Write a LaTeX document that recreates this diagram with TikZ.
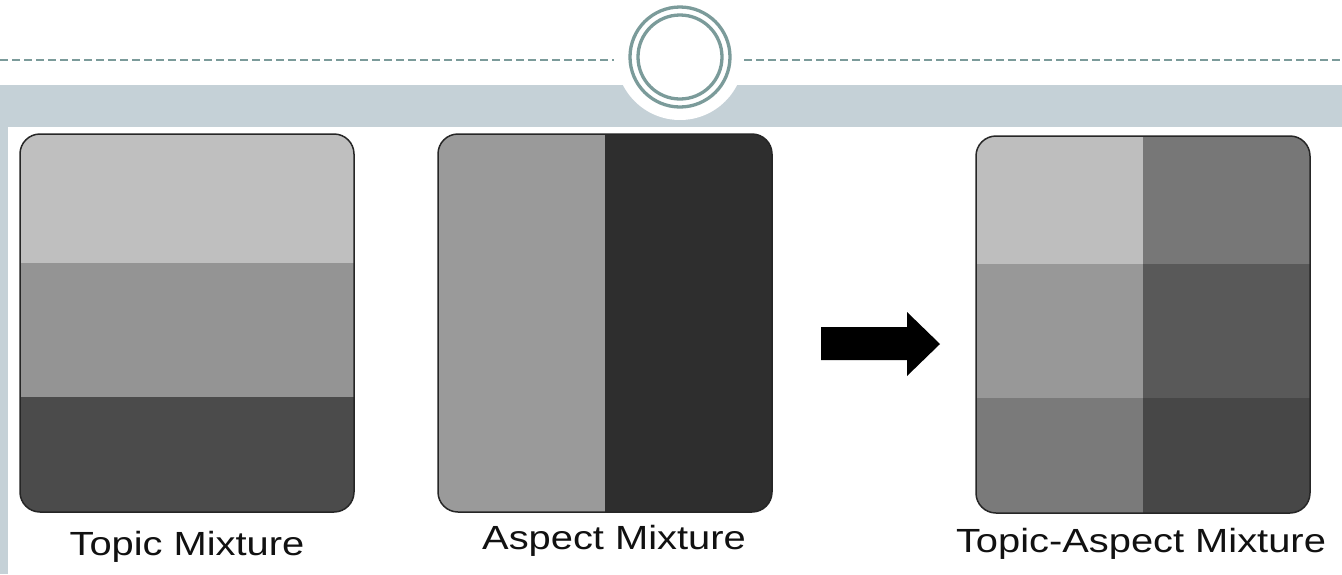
\documentclass[tikz,border=0pt]{standalone}
\usepackage{fontspec}
\setmainfont{Liberation Sans}
\definecolor{band}{HTML}{C5D1D7}
\definecolor{ring}{HTML}{7B9B9A}
\definecolor{tA}{HTML}{BFBFBF}
\definecolor{tB}{HTML}{949494}
\definecolor{tC}{HTML}{4B4B4B}
\definecolor{aA}{HTML}{9A9A9A}
\definecolor{aB}{HTML}{2E2E2E}
\definecolor{mTL}{HTML}{BEBEBE}
\definecolor{mTR}{HTML}{777777}
\definecolor{mML}{HTML}{989898}
\definecolor{mMR}{HTML}{595959}
\definecolor{mBL}{HTML}{7A7A7A}
\definecolor{mBR}{HTML}{474747}
\definecolor{txt}{HTML}{111111}
\tikzset{
  boxframe/.style={draw=black!85, line width=1.5pt, rounded corners=20pt},
  dashline/.style={draw=ring, line width=2pt, dash pattern=on 8pt off 4pt},
  lbl/.style={anchor=base, text=txt, inner sep=0pt, font=\fontsize{33.5}{40}\selectfont},
}
\newcommand{\wlbl}[1]{\scalebox{1.19}[1]{#1}}
\begin{document}
\begin{tikzpicture}[x=1pt,y=-1pt]
\useasboundingbox (0,0) rectangle (1342,574);
\fill[white] (0,0) rectangle (1342,574);
% header band and left strip
\fill[band] (0,85) rectangle (1342,127);
\fill[band] (0,127) rectangle (8,574);
% dashed lines
\coordinate (dl0) at (0,60);
\coordinate (dl1) at (614,60);
\coordinate (dr0) at (744,60);
\coordinate (dr1) at (1342,60);
\draw[dashline] (dl0) -- (dl1);
\draw[dashline] (dr0) -- (dr1);
% halo and rings
\node[circle, fill=white, minimum size=128pt, inner sep=0pt] (halo) at (680,56) {};
\node[circle, draw=ring, line width=3.3pt, minimum size=100pt, inner sep=0pt] (outer) at (680,57) {};
\node[circle, draw=ring, line width=3.3pt, minimum size=84pt, inner sep=0pt] (inner) at (680,57) {};

% Box 1: Topic Mixture
\begin{scope}
\clip[rounded corners=20pt] (20,134) rectangle (354,512);
\fill[tA] (20,134) rectangle (354,263);
\fill[tB] (20,263) rectangle (354,397);
\fill[tC] (20,397) rectangle (354,512);
\end{scope}
\node[boxframe, minimum width=334pt, minimum height=378pt, inner sep=0pt] (topic) at (187,323) {};

% Box 2: Aspect Mixture
\begin{scope}
\clip[rounded corners=20pt] (438,134) rectangle (772,512);
\fill[aA] (438,134) rectangle (605,512);
\fill[aB] (605,134) rectangle (772,512);
\end{scope}
\node[boxframe, minimum width=334pt, minimum height=378pt, inner sep=0pt] (aspect) at (605,323) {};

% Box 3: Topic-Aspect Mixture
\begin{scope}
\clip[rounded corners=20pt] (976,136) rectangle (1310,513);
\fill[mTL] (976,136) rectangle (1143,264);
\fill[mTR] (1143,136) rectangle (1310,264);
\fill[mML] (976,264) rectangle (1143,398);
\fill[mMR] (1143,264) rectangle (1310,398);
\fill[mBL] (976,398) rectangle (1143,513);
\fill[mBR] (1143,398) rectangle (1310,513);
\end{scope}
\node[boxframe, minimum width=334pt, minimum height=377pt, inner sep=0pt] (mix) at (1143,324.5) {};

% Arrow
\fill[black] (821,327) -- (907,327) -- (907,312) -- (940,344) -- (907,376) -- (907,360) -- (821,360) -- cycle;

% Labels
\node[lbl] (ltopic) at (187,555) {\wlbl{Topic Mixture}};
\node[lbl] (laspect) at (614,549) {\wlbl{Aspect Mixture}};
\node[lbl] (lmix) at (1141,552) {\wlbl{Topic-Aspect Mixture}};
\end{tikzpicture}
\end{document}
